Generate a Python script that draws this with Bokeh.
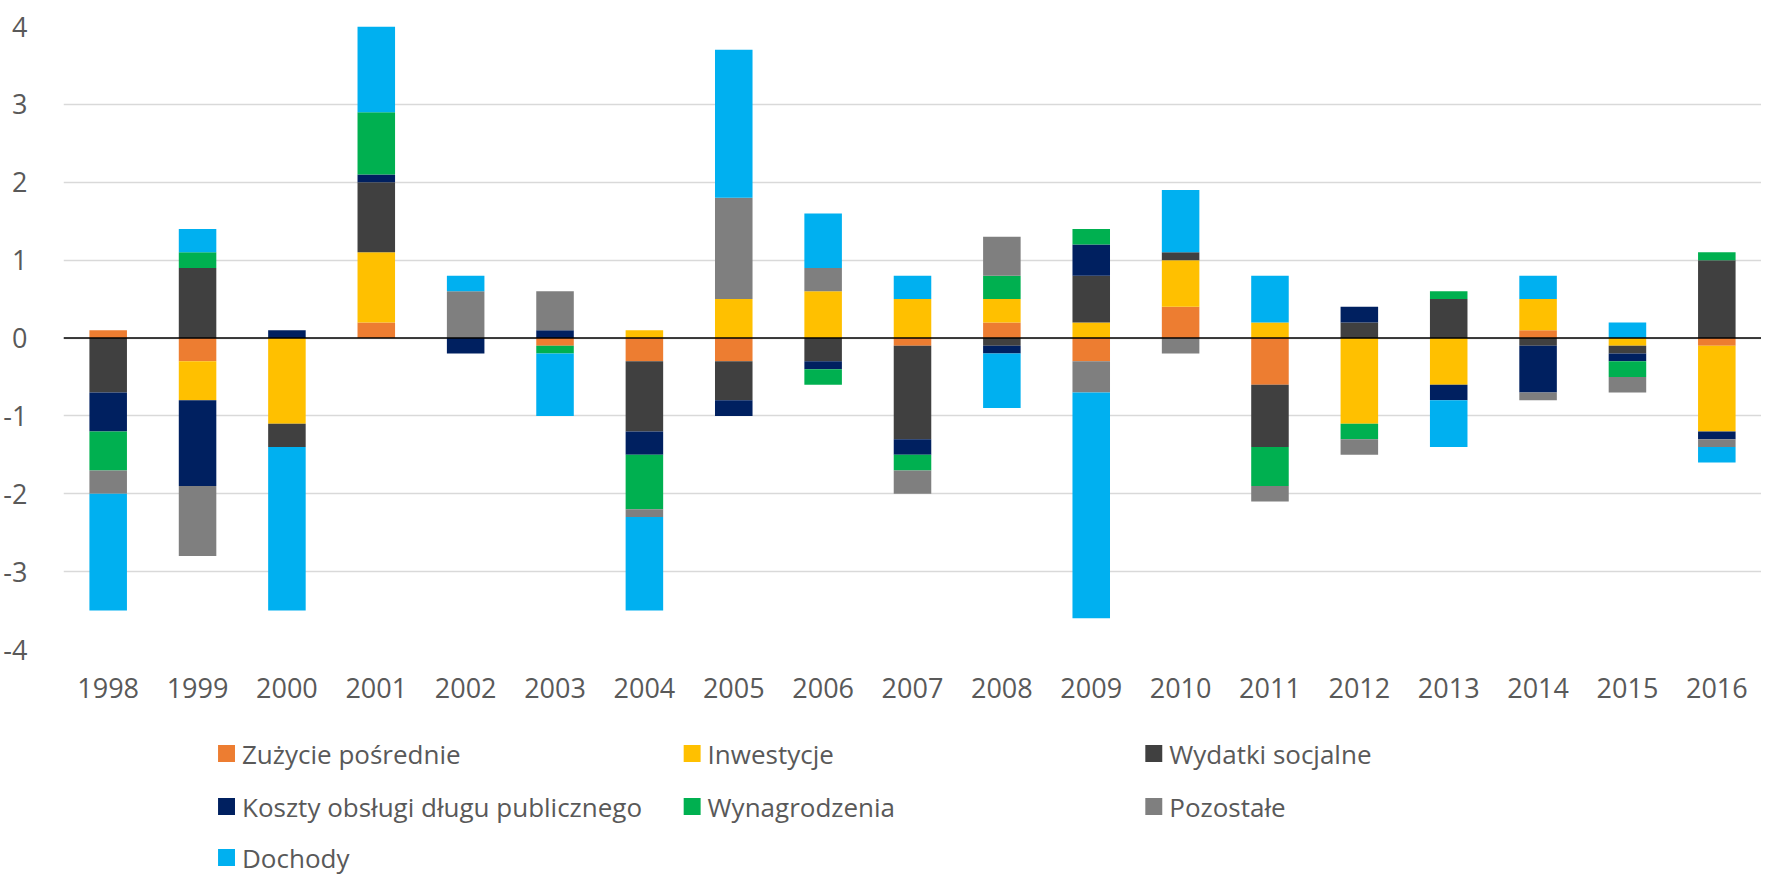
import numpy as np
from bokeh.plotting import figure
from bokeh.models import FactorRange, Range1d, FixedTicker, Span, ColumnDataSource
from bokeh.layouts import column
from bokeh.embed import file_html
from bokeh.resources import INLINE
from bokeh.core.properties import value

# ---------------- data ----------------
years = [str(y) for y in range(1998, 2017)]

series_names = ["Zużycie pośrednie", "Inwestycje", "Wydatki socjalne",
                "Koszty obsługi długu publicznego", "Wynagrodzenia",
                "Pozostałe", "Dochody"]
series_colors = ["#ED7D31", "#FFC000", "#404040", "#002060", "#00B050",
                 "#7F7F7F", "#00B0F0"]

zuzycie_posrednie = [0.1, -0.3, 0.0, 0.2, 0.0, -0.1, -0.3, -0.3, 0.0, -0.1,
                     0.2, -0.3, 0.4, -0.6, 0.0, 0.0, 0.1, 0.0, -0.1]
inwestycje = [0.0, -0.5, -1.1, 0.9, 0.0, 0.0, 0.1, 0.5, 0.6, 0.5,
              0.3, 0.2, 0.6, 0.2, -1.1, -0.6, 0.4, -0.1, -1.1]
wydatki_socjalne = [-0.7, 0.9, -0.3, 0.9, 0.0, 0.0, -0.9, -0.5, -0.3, -1.2,
                    -0.1, 0.6, 0.1, -0.8, 0.2, 0.5, -0.1, -0.1, 1.0]
koszty_dlugu = [-0.5, -1.1, 0.1, 0.1, -0.2, 0.1, -0.3, -0.2, -0.1, -0.2,
                -0.1, 0.4, 0.0, 0.0, 0.2, -0.2, -0.6, -0.1, -0.1]
wynagrodzenia = [-0.5, 0.2, 0.0, 0.8, 0.0, -0.1, -0.7, 0.0, -0.2, -0.2,
                 0.3, 0.2, 0.0, -0.5, -0.2, 0.1, 0.0, -0.2, 0.1]
pozostale = [-0.3, -0.9, 0.0, 0.0, 0.6, 0.5, -0.1, 1.3, 0.3, -0.3,
             0.5, -0.4, -0.2, -0.2, -0.2, 0.0, -0.1, -0.2, -0.1]
dochody = [-1.5, 0.3, -2.1, 1.1, 0.2, -0.8, -1.2, 1.9, 0.7, 0.3,
           -0.7, -2.9, 0.8, 0.6, 0.0, -0.6, 0.3, 0.2, -0.2]

series_values = [zuzycie_posrednie, inwestycje, wydatki_socjalne, koszty_dlugu,
                 wynagrodzenia, pozostale, dochody]

y_ticks = [-4, -3, -2, -1, 0, 1, 2, 3, 4]

FONT = "Open Sans"
TXT = "#595959"

# ---------------- main chart ----------------
W = 1761
H_MAIN = 720
p = figure(x_range=FactorRange(*years, range_padding=0), y_range=Range1d(-4, 4),
           width=W, height=H_MAIN, output_backend="svg", toolbar_location=None,
           min_border_left=58, min_border_right=0, min_border_top=26,
           min_border_bottom=71)
p.outline_line_color = None
p.background_fill_color = "white"
p.border_fill_color = "white"

pos_base = np.zeros(len(years))
neg_base = np.zeros(len(years))
for name, col, vals in zip(series_names, series_colors, series_values):
    v = np.array(vals, dtype=float)
    pos = np.where(v > 0, v, 0.0)
    neg = np.where(v < 0, v, 0.0)
    bottoms = np.where(v >= 0, pos_base, neg_base + neg)
    tops = np.where(v >= 0, pos_base + pos, neg_base)
    src = ColumnDataSource(dict(x=years, bottom=bottoms, top=tops))
    p.vbar(x="x", bottom="bottom", top="top", width=0.42, source=src,
           fill_color=col, line_color=None)
    pos_base = pos_base + pos
    neg_base = neg_base + neg

p.add_layout(Span(location=0, dimension="width", line_color="black", line_width=1.6))

p.xgrid.grid_line_color = None
p.ygrid.grid_line_color = "#D9D9D9"
p.ygrid.grid_line_width = 1.5

p.yaxis.ticker = FixedTicker(ticks=y_ticks)
p.yaxis.major_label_overrides = {t: str(t) for t in y_ticks}
for ax in (p.xaxis[0], p.yaxis[0]):
    ax.axis_line_color = None
    ax.major_tick_line_color = None
    ax.minor_tick_line_color = None
    ax.major_label_text_font = FONT
    ax.major_label_text_font_size = "27px"
    ax.major_label_text_color = TXT
p.yaxis.major_label_standoff = 30
p.xaxis.major_label_standoff = 22

# ---------------- legend (page-pixel coordinates) ----------------
LH = 157
leg = figure(width=W, height=LH, x_range=Range1d(66, 1769),
             y_range=Range1d(H_MAIN + LH, H_MAIN),
             output_backend="svg", toolbar_location=None,
             min_border_left=58, min_border_right=0,
             min_border_top=0, min_border_bottom=0)
leg.axis.visible = False
leg.grid.visible = False
leg.outline_line_color = None
leg.background_fill_color = "white"
leg.border_fill_color = "white"

col_left = [221, 688, 1151]
row_y = [753, 806, 857]
mx, my, tx = [], [], []
for i in range(len(series_names)):
    r, c = divmod(i, 3)
    mx.append(col_left[c] + 8.5)
    my.append(row_y[r])
    tx.append(col_left[c] + 24)
leg.rect(x=mx, y=my, width=17, height=17, fill_color=series_colors, line_color=None)
leg.text(x=tx, y=my, text=series_names, text_font=value(FONT),
         text_font_size="26px", text_color=TXT, text_baseline="middle",
         text_align="left")

layout = column(p, leg, spacing=0)
open("out.html", "w").write(file_html(layout, INLINE))
